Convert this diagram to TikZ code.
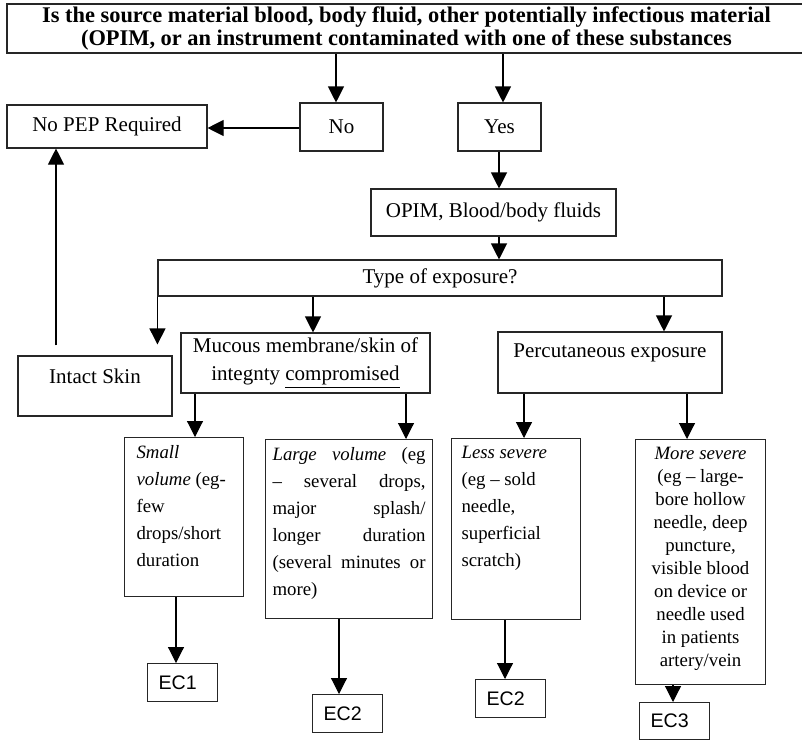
\documentclass[tikz,border=0pt]{standalone}
\usepackage{fontspec}
\setmainfont{Liberation Serif}
\newfontfamily\ecfont{Liberation Sans}
\usetikzlibrary{arrows.meta}
\tikzset{box/.style={draw=black!85,line width=0.55pt,inner sep=0pt,align=center,font=\fontsize{10.5}{14}\selectfont},
  cellbox/.style={draw=black!85,line width=0.55pt,anchor=north west,inner ysep=4pt,font=\fontsize{9.4}{13.5}\selectfont},
  ecbox/.style={draw=black!85,line width=0.55pt,anchor=north west,text width=24pt,inner xsep=5.5pt,inner ysep=0pt,minimum height=19pt,align=left,font=\ecfont\fontsize{9.8}{11}\selectfont},
  arr/.style={line width=0.55pt,-{Triangle[length=8pt,width=8pt]}} }

\begin{document}
\begin{tikzpicture}[x=0.5pt,y=-0.5pt]
    \useasboundingbox (0,0) rectangle (802,740);
    % question and first split
    \node[box,line width=1pt,minimum width=399.5pt,minimum height=24.5pt,font=\bfseries\fontsize{11.2}{11.5}\selectfont] (q) at (406.5,28.5) {Is the source material blood, body fluid, other potentially infectious material\\(OPIM, or an instrument contaminated with one of these substances};
    \node[box,minimum width=100pt,minimum height=21.5pt] (nopep) at (107,126.5) {No PEP Required};
    \node[box,minimum width=41.5pt,minimum height=24pt] (no) at (341.5,127) {No};
    \node[box,minimum width=41.5pt,minimum height=24pt] (yes) at (499.5,127) {Yes};
    \node[box,minimum width=122.5pt,minimum height=23.5pt] (opim) at (493.5,212.5) {OPIM, Blood/body fluids};
    \node[box,minimum width=282pt,minimum height=18pt] (type) at (440,278) {Type of exposure?};
    % exposure types
    \node[box,minimum width=77pt,minimum height=30pt,text depth=9.3pt] (intact) at (95,386) {Intact Skin};
    \node[box,minimum width=124.5pt,minimum height=30pt] (mucous) at (305.5,363) {Mucous membrane/skin of\\integnty \underline{compromised}};
    \node[box,minimum width=112pt,minimum height=30.5pt,text depth=11.8pt] (percut) at (610,362.5) {Percutaneous exposure};
    % severity
    \node[cellbox,inner xsep=6pt] (small) at (124,437) {\parbox[c][71.5pt][t]{47.5pt}{\raggedright\textit{Small}\\\textit{volume} (eg-\\few\\drops/short\\duration}};
    \node[cellbox,inner xsep=3.5pt] (large) at (265,439) {\parbox[c][81.5pt][t]{76.5pt}{\textit{Large volume} (eg\linebreak – several drops,\linebreak major splash/\linebreak longer duration\linebreak (several minutes or\linebreak more)}};
    \node[cellbox,inner xsep=5pt] (less) at (451,438) {\parbox[c][82.5pt][t]{54.5pt}{\raggedright\textit{Less severe}\\(eg – sold\\needle,\\superficial\\scratch)}};
    \node[cellbox,inner xsep=3pt,font=\fontsize{9.4}{11.5}\selectfont] (more) at (635,439) {\parbox[c][114.5pt][t]{59pt}{\centering\textit{More severe}\\(eg – large-\\bore hollow\\needle, deep\\puncture,\\visible blood\\on device or\\needle used\\in patients\\artery/vein}};
    \node[ecbox] (ec1) at (147,663) {EC1};
    \node[ecbox] (ec2a) at (312,694) {EC2};
    \node[ecbox] (ec2b) at (475,679) {EC2};
    \node[ecbox,minimum height=18.5pt] (ec3) at (639,702) {EC3};
    % connectors
    \draw[arr] (q.south -| 336,0) -- (no.north -| 336,0);
    \draw[arr] (q.south -| 503,0) -- (yes.north -| 503,0);
    \draw[arr] (no.west |- 0,128) -- (nopep.east |- 0,128);
    \draw[arr] (yes.south -| 499,0) -- (opim.north -| 499,0);
    \draw[arr] (opim.south -| 499,0) -- (type.north -| 499,0);
    \draw[arr,shorten >=5.5pt] (type.south west) -- (intact.north -| type.south west);
    \draw[arr] (type.south -| 313,0) -- (mucous.north -| 313,0);
    \draw[arr] (type.south -| 664,0) -- (percut.north -| 664,0);
    \draw[arr,shorten <=5pt] (intact.north -| 56,0) -- (nopep.south -| 56,0);
    \draw[arr] (mucous.south -| 195,0) -- (small.north -| 195,0);
    \draw[arr] (mucous.south -| 406,0) -- (large.north -| 406,0);
    \draw[arr] (percut.south -| 524,0) -- (less.north -| 524,0);
    \draw[arr] (percut.south -| 687,0) -- (more.north -| 687,0);
    \draw[arr] (small.south -| 176,0) -- (ec1.north -| 176,0);
    \draw[arr] (large.south -| 339,0) -- (ec2a.north -| 339,0);
    \draw[arr] (less.south -| 505,0) -- (ec2b.north -| 505,0);
    \draw[arr] (more.south -| 673,0) -- (ec3.north -| 673,0);
\end{tikzpicture}
\end{document}
